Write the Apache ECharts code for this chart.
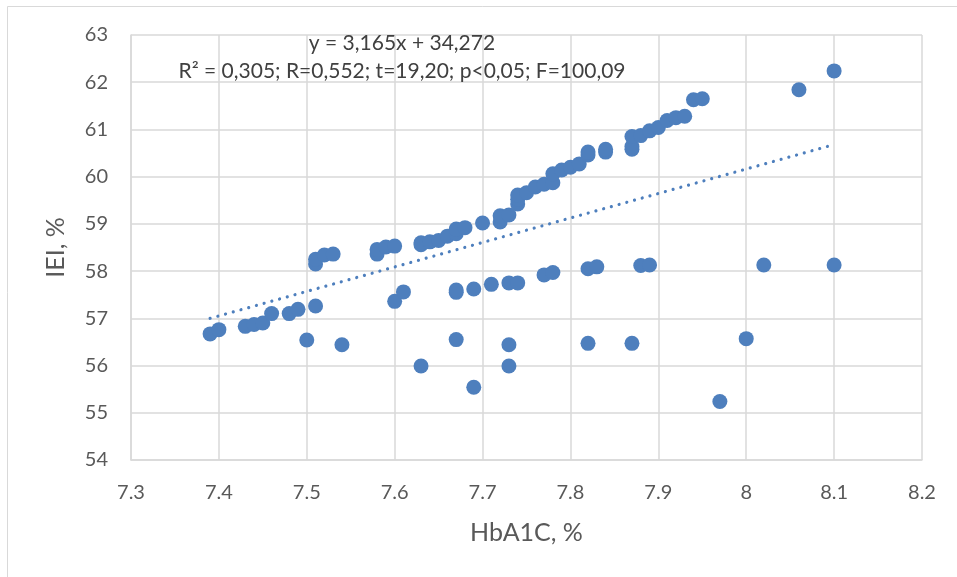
<!DOCTYPE html>
<html>
<head>
<meta charset="utf-8">
<script src="https://cdn.jsdelivr.net/npm/echarts@6/dist/echarts.min.js"></script>
<style>
  html, body { margin: 0; padding: 0; background: #fff; }
  #main { width: 957px; height: 577px; }
</style>
</head>
<body>
<div id="main"></div>
<script>
// HbA1C, % (x) and IEI, % (y)
var hba1c = [
  7.39, 7.40, 7.43, 7.44, 7.45, 7.46, 7.48, 7.49, 7.51, 7.51, 7.52, 7.53, 7.58, 7.58, 7.59, 7.60,
  7.63, 7.63, 7.64, 7.65, 7.66, 7.67, 7.67, 7.68, 7.70, 7.72, 7.72, 7.73, 7.74, 7.74, 7.74, 7.75,
  7.76, 7.77, 7.78, 7.78, 7.79, 7.80, 7.81, 7.82, 7.82, 7.84, 7.84, 7.87, 7.87, 7.87, 7.88, 7.89,
  7.90, 7.91, 7.92, 7.93, 7.94, 7.95, 8.06, 8.10,
  7.51, 7.60, 7.61, 7.67, 7.67, 7.69, 7.71, 7.73, 7.74, 7.77, 7.78, 7.82, 7.83, 7.88, 7.89, 8.02, 8.10,
  7.50, 7.54, 7.63, 7.67, 7.69, 7.73, 7.73, 7.82, 7.87, 7.97, 8.00
];
var iei = [
  56.67, 56.76, 56.83, 56.87, 56.90, 57.10, 57.10, 57.19, 58.15, 58.25, 58.34, 58.36, 58.36, 58.46, 58.51, 58.53,
  58.56, 58.60, 58.62, 58.65, 58.74, 58.79, 58.89, 58.92, 59.02, 59.04, 59.17, 59.19, 59.42, 59.52, 59.61, 59.66,
  59.78, 59.84, 59.87, 60.06, 60.14, 60.20, 60.27, 60.46, 60.52, 60.52, 60.58, 60.58, 60.64, 60.85, 60.87, 60.97,
  61.04, 61.19, 61.25, 61.28, 61.63, 61.65, 61.84, 62.24,
  57.26, 57.36, 57.56, 57.55, 57.60, 57.62, 57.72, 57.75, 57.75, 57.92, 57.97, 58.05, 58.09, 58.12, 58.13, 58.13, 58.13,
  56.54, 56.44, 55.99, 56.55, 55.54, 56.44, 55.99, 56.47, 56.47, 55.24, 56.57
];
// trend line as drawn (end points)
var trendX = [7.39, 8.10];
var trendY = [57.00, 60.68];
var eqText = 'y = 3,165x + 34,272';
var statText = 'R² = 0,305; R=0,552; t=19,20; p<0,05; F=100,09';

var points = hba1c.map(function (x, i) { return [x, iei[i]]; });
var trend = trendX.map(function (x, i) { return [x, trendY[i]]; });

var font = 'Lato, "Open Sans", sans-serif';
var myChart = echarts.init(document.getElementById('main'));
myChart.setOption({
  animation: false,
  backgroundColor: '#fff',
  grid: { left: 131, right: 35, top: 35, bottom: 117 },
  graphic: [
    {
      type: 'rect', z: -10, silent: true,
      shape: { x: 7.5, y: 6.5, width: 980, height: 600 },
      style: { fill: 'none', stroke: '#d9d9d9', lineWidth: 1 }
    },
    {
      type: 'text', z: 100, x: 402, y: 43,
      style: { text: eqText, fill: '#404040', font: '21px ' + font, align: 'center', verticalAlign: 'middle' }
    },
    {
      type: 'text', z: 100, x: 402, y: 71,
      style: { text: statText, fill: '#404040', font: '21px ' + font, align: 'center', verticalAlign: 'middle' }
    }
  ],
  xAxis: {
    type: 'value', min: 7.3, max: 8.2, interval: 0.1,
    name: 'HbA1C, %', nameLocation: 'middle', nameGap: 60,
    nameTextStyle: { color: '#595959', fontSize: 25, fontFamily: font },
    axisLine: { show: true, lineStyle: { color: '#d9d9d9', width: 1.5 } },
    axisTick: { show: false },
    splitLine: { show: true, lineStyle: { color: '#d9d9d9', width: 1.5 } },
    axisLabel: {
      color: '#595959', fontSize: 20, fontFamily: font, margin: 23,
      formatter: function (v) { return String(Math.round(v * 10) / 10); }
    }
  },
  yAxis: {
    type: 'value', min: 54, max: 63, interval: 1,
    name: 'IEI, %', nameLocation: 'middle', nameGap: 63,
    nameTextStyle: { color: '#595959', fontSize: 25, fontFamily: font },
    axisLine: { show: true, lineStyle: { color: '#d9d9d9', width: 1.5 } },
    axisTick: { show: false },
    splitLine: { show: true, lineStyle: { color: '#d9d9d9', width: 1.5 } },
    axisLabel: { color: '#595959', fontSize: 20, fontFamily: font, margin: 23 }
  },
  series: [
    {
      type: 'line', data: trend, symbol: 'none', z: 3,
      lineStyle: { color: '#4e7fbd', width: 3.2, type: [0.01, 8], cap: 'round' }
    },
    {
      type: 'scatter', data: points, symbol: 'circle', symbolSize: 15, z: 4,
      itemStyle: { color: '#4e7fbd', opacity: 1 }
    }
  ]
});
</script>
</body>
</html>
